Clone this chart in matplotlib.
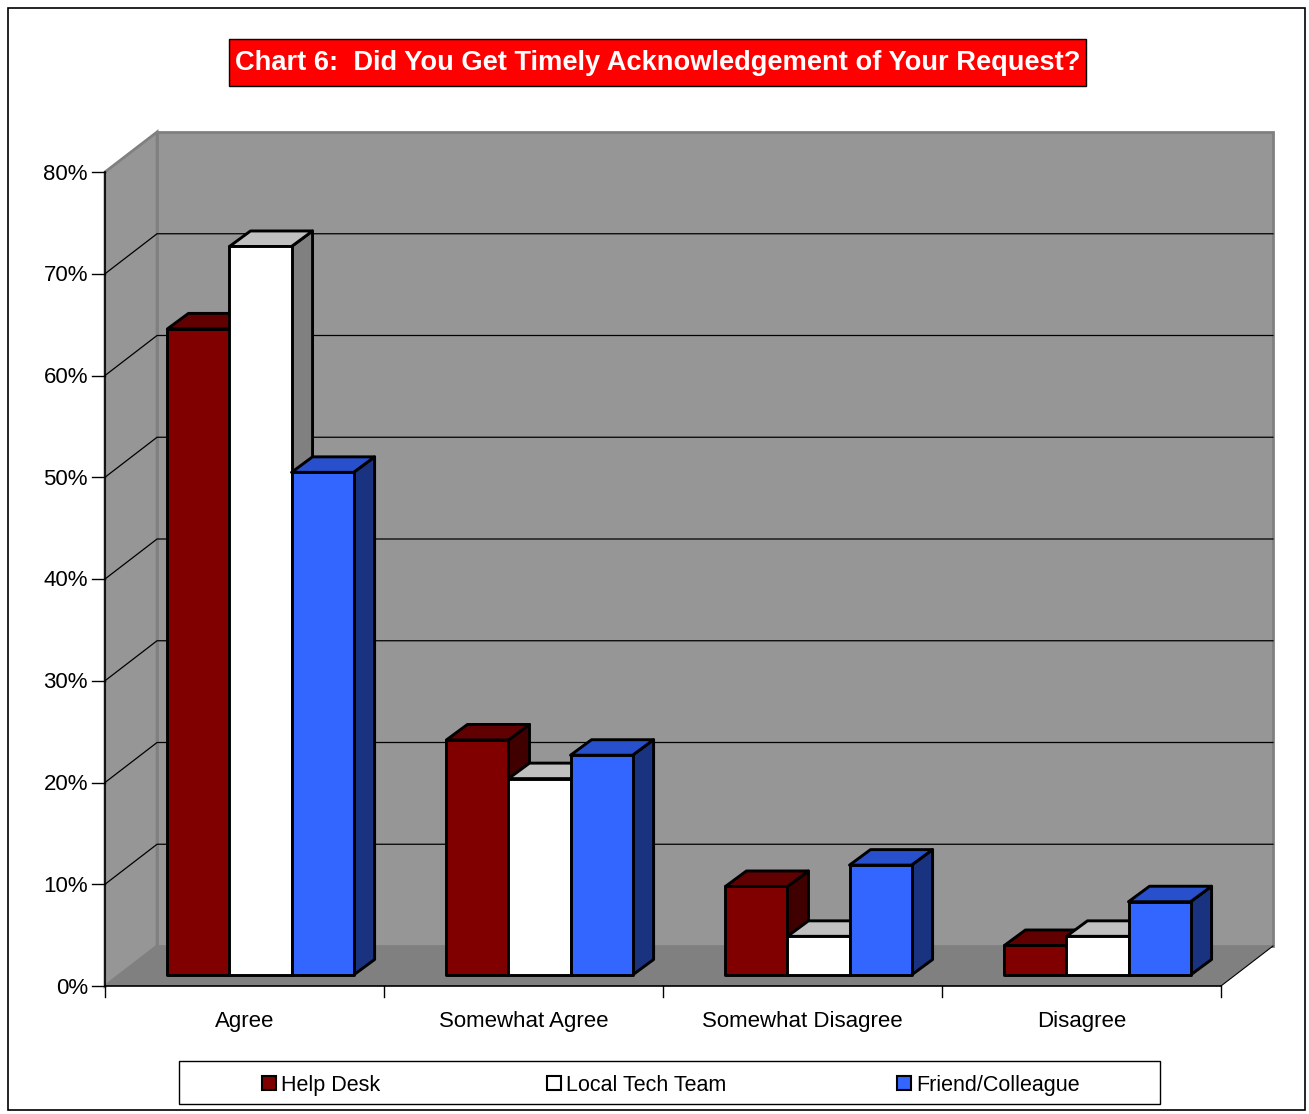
import matplotlib
matplotlib.use('Agg')
import matplotlib.pyplot as plt
from matplotlib.patches import Polygon, Rectangle

plt.rcParams['font.family'] = ['Liberation Sans', 'DejaVu Sans']

# data (percent of responses)
categories = ['Agree', 'Somewhat Agree', 'Somewhat Disagree', 'Disagree']
series = ['Help Desk', 'Local Tech Team', 'Friend/Colleague']
help_desk = [63.5, 23.1, 8.7, 2.9]
local_tech = [71.6, 19.3, 3.8, 3.8]
friend = [49.4, 21.6, 10.8, 7.2]
yticks = [0, 10, 20, 30, 40, 50, 60, 70, 80]
ytick_labels = ['0%', '10%', '20%', '30%', '40%', '50%', '60%', '70%', '80%']

# colours: front, top, side
face_cols = [('#800000', '#600000', '#400000'),
             ('#FFFFFF', '#C0C0C0', '#808080'),
             ('#3366FF', '#2850CC', '#1A3380')]

W, H = 1309, 1114
fig = plt.figure(figsize=(W / 100, H / 100), dpi=100)

# pixel scale of the plot
px_x = 278.75   # px per category
px_y = 10.175   # px per percent
wall_dx = 52 / px_x
wall_dy = 40 / px_y
bar_w = 62 / px_x
shift_x = 16 / px_x
shift_y = 11 / px_y
bar_dx = 21 / px_x
bar_dy = 15.5 / px_y

ax = fig.add_axes([105 / W, (H - 986) / H, (1273 - 105) / W, (986 - 132) / H])
ax.set_xlim(0, 4 + wall_dx)
ax.set_ylim(0, 80 + wall_dy)
ax.axis('off')

# walls and floor
ax.add_patch(Polygon([(0, 0), (wall_dx, wall_dy), (wall_dx, 80 + wall_dy), (0, 80)],
                     closed=True, fc='#969696', ec='#808080', lw=2, clip_on=False, zorder=1))
ax.add_patch(Polygon([(wall_dx, wall_dy), (4 + wall_dx, wall_dy),
                      (4 + wall_dx, 80 + wall_dy), (wall_dx, 80 + wall_dy)],
                     closed=True, fc='#969696', ec='#808080', lw=2, clip_on=False, zorder=1))
ax.add_patch(Polygon([(0, 0), (4, 0), (4 + wall_dx, wall_dy), (wall_dx, wall_dy)],
                     closed=True, fc='#808080', ec='none', clip_on=False, zorder=1))
ax.plot([4, 4 + wall_dx], [0, wall_dy], color='black', lw=0.8, clip_on=False, zorder=2)

# gridlines
for v in yticks[1:-1]:
    ax.plot([0, wall_dx, 4 + wall_dx], [v, v + wall_dy, v + wall_dy],
            color='black', lw=0.9, clip_on=False, zorder=2)

# axes lines, ticks and labels
ax.plot([0, 0], [0, 80], color='black', lw=1.2, clip_on=False, zorder=2)
ax.plot([0, 4], [0, 0], color='black', lw=1.2, clip_on=False, zorder=2)
for v, lab in zip(yticks, ytick_labels):
    ax.plot([-13 / px_x, 0], [v, v], color='black', lw=1, clip_on=False)
    ax.text(-17 / px_x, v - 2 / px_y, lab, ha='right', va='center', fontsize=16)
for i in range(5):
    ax.plot([i, i], [0, -11 / px_y], color='black', lw=1, clip_on=False)
for i, c in enumerate(categories):
    ax.text(i + 0.5, -35 / px_y, c, ha='center', va='center', fontsize=16)

# 3d bars
values = [help_desk, local_tech, friend]
for i in range(len(categories)):
    for j in range(len(series)):
        v = values[j][i]
        x0 = i + 0.5 + shift_x - 1.5 * bar_w + j * bar_w
        x1 = x0 + bar_w
        y0 = shift_y
        y1 = y0 + v
        front, top, side = face_cols[j]
        z = 3 + i * 0.1 + j * 0.01
        ax.add_patch(Polygon([(x1, y0), (x1 + bar_dx, y0 + bar_dy),
                              (x1 + bar_dx, y1 + bar_dy), (x1, y1)],
                             closed=True, fc=side, ec='black', lw=2.1, joinstyle='round',
                             clip_on=False, zorder=z))
        ax.add_patch(Polygon([(x0, y1), (x1, y1), (x1 + bar_dx, y1 + bar_dy),
                              (x0 + bar_dx, y1 + bar_dy)],
                             closed=True, fc=top, ec='black', lw=2.1, joinstyle='round',
                             clip_on=False, zorder=z))
        ax.add_patch(Polygon([(x0, y0), (x1, y0), (x1, y1), (x0, y1)],
                             closed=True, fc=front, ec='black', lw=2.1, joinstyle='round',
                             clip_on=False, zorder=z))


def fig_rect(x0, y0, x1, y1, **kw):
    r = Rectangle((x0 / W, 1 - y1 / H), (x1 - x0) / W, (y1 - y0) / H,
                  transform=fig.transFigure, **kw)
    fig.add_artist(r)


# outer border
fig_rect(8, 8, 1305, 1110, fc='none', ec='black', lw=1.2)

# title
fig_rect(229, 39, 1086, 86, fc='#FF0000', ec='black', lw=1)
fig.text(657.5 / W, 1 - 63.5 / H, 'Chart 6:  Did You Get Timely Acknowledgement of Your Request?',
         ha='center', va='center', color='white', fontsize=19.6, fontweight='bold')

# legend
fig_rect(179, 1061, 1160, 1104, fc='white', ec='black', lw=1)
leg_x = [262, 547, 897]
for j, name in enumerate(series):
    fig_rect(leg_x[j], 1076, leg_x[j] + 14, 1090, fc=face_cols[j][0], ec='black', lw=1.5)
    fig.text((leg_x[j] + 19) / W, 1 - 1091 / H, name, ha='left', va='baseline', fontsize=15.5)

fig.savefig('out.png', dpi=100)
